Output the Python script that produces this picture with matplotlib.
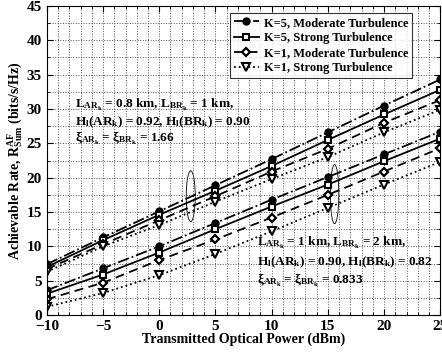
import matplotlib
matplotlib.use("Agg")
import matplotlib.pyplot as plt
from matplotlib.patches import Ellipse
from matplotlib.ticker import MultipleLocator

plt.rcParams['font.family'] = ['Liberation Serif', 'DejaVu Serif']
plt.rcParams['font.weight'] = 'bold'
plt.rcParams['mathtext.fontset'] = 'custom'
plt.rcParams['mathtext.rm'] = 'Liberation Serif:bold'
plt.rcParams['mathtext.it'] = 'Liberation Serif:bold'
plt.rcParams['mathtext.bf'] = 'Liberation Serif:bold'
plt.rcParams['axes.unicode_minus'] = True

power = [-10, -5, 0, 5, 10, 15, 20, 25]

# Upper group: L_AR = 0.8 km, L_BR = 1 km
k5_mod_a = [7.4, 11.3, 15.1, 18.9, 22.7, 26.6, 30.5, 34.3]
k5_str_a = [7.0, 10.9, 14.6, 18.1, 21.7, 25.5, 29.2, 32.8]
k1_mod_a = [6.7, 10.3, 13.8, 17.3, 20.9, 24.2, 28.0, 31.3]
k1_str_a = [6.3, 10.0, 13.1, 16.5, 19.8, 23.0, 26.6, 29.9]

# Lower group: L_AR = 1 km, L_BR = 2 km
k5_mod_b = [3.6, 6.8, 10.0, 13.4, 16.8, 20.1, 23.4, 26.7]
k5_str_b = [3.1, 5.9, 9.1, 12.5, 15.8, 19.0, 22.4, 25.7]
k1_mod_b = [2.3, 4.7, 8.0, 11.0, 14.2, 17.5, 20.9, 24.3]
k1_str_b = [1.2, 3.2, 5.8, 8.9, 12.2, 15.6, 19.0, 22.3]

labels = ['K=5, Moderate Turbulence', 'K=5, Strong Turbulence',
          'K=1, Moderate Turbulence', 'K=1, Strong Turbulence']

fig = plt.figure(figsize=(4.42, 3.52), dpi=100)
ax = fig.add_axes([0.106, 0.105, 0.89, 0.878])

styles = [
    dict(ls='-.', marker='o', mfc='black', mec='black', ms=5),
    dict(ls='-', marker='s', mfc='white', mec='black', ms=4.5, mew=1.5),
    dict(ls=(0, (5, 3)), marker='D', mfc='white', mec='black', ms=4.5, mew=1.6),
    dict(ls=':', marker='v', mfc='white', mec='black', ms=6, mew=1.5),
]
groups_a = [k5_mod_a, k5_str_a, k1_mod_a, k1_str_a]
groups_b = [k5_mod_b, k5_str_b, k1_mod_b, k1_str_b]
for ya, yb, st, lab in zip(groups_a, groups_b, styles, labels):
    ax.plot(power, ya, color='black', lw=1.3, label=lab, **st)
    ax.plot(power, yb, color='black', lw=1.3, **st)

ax.add_patch(Ellipse((2.8, 17.3), 0.8, 7.4, fill=False, ec='black', lw=0.6))
ax.add_patch(Ellipse((15.6, 17.6), 0.75, 8.6, fill=False, ec='black', lw=0.6))

ax.set_xlim(-10, 25)
ax.set_ylim(0, 45)
ax.xaxis.set_major_locator(MultipleLocator(5))
ax.yaxis.set_major_locator(MultipleLocator(5))
ax.xaxis.set_minor_locator(MultipleLocator(1))
ax.yaxis.set_minor_locator(MultipleLocator(2.5))
ax.grid(True, which='both', ls=':', color='#555555', lw=0.7)
ax.tick_params(which='both', direction='in', top=True, right=True, labelsize=11)
ax.tick_params(which='major', length=4)
ax.tick_params(which='minor', length=2)
for t in ax.get_xticklabels() + ax.get_yticklabels():
    t.set_fontweight('bold')

ax.set_xlabel('Transmitted Optical Power (dBm)', fontsize=10, fontweight='bold', labelpad=0)
ax.set_ylabel(r'Achievable Rate, R$^{\mathrm{AF}}_{\mathrm{Sum}}$ (bits/s/Hz)', fontsize=10,
              fontweight='bold', labelpad=1)

leg = ax.legend(loc='upper right', bbox_to_anchor=(0.935, 0.985), fontsize=9,
                frameon=True, fancybox=False, edgecolor='black', handlelength=2.0,
                borderpad=0.3, labelspacing=0.25, handletextpad=0.4, borderaxespad=0.2)
leg.get_frame().set_linewidth(0.8)
for t in leg.get_texts():
    t.set_fontweight('bold')

lines_a = ['L$_{\\mathrm{AR_k}}$ = 0.8 km, L$_{\\mathrm{BR_k}}$ = 1 km,',
           'H$_\\mathrm{l}$(AR$_\\mathrm{k}$) = 0.92, H$_\\mathrm{l}$(BR$_\\mathrm{k}$) = 0.90',
           '\u03be$_{\\mathrm{AR_k}}$ = \u03be$_{\\mathrm{BR_k}}$ = 1.66']
lines_b = ['L$_{\\mathrm{AR_k}}$ = 1 km, L$_{\\mathrm{BR_k}}$ = 2 km,',
           'H$_\\mathrm{l}$(AR$_\\mathrm{k}$) = 0.90, H$_\\mathrm{l}$(BR$_\\mathrm{k}$) = 0.82',
           '\u03be$_{\\mathrm{AR_k}}$ = \u03be$_{\\mathrm{BR_k}}$ = 0.833']
for s, y in zip(lines_a, [30.2, 27.7, 25.2]):
    ax.text(-7.5, y, s, fontsize=9.5, fontweight='bold', va='baseline', ha='left')
for s, y in zip(lines_b, [10.0, 7.2, 4.6]):
    ax.text(8.7, y, s, fontsize=9.5, fontweight='bold', va='baseline', ha='left')

fig.savefig('out.png', dpi=100)
